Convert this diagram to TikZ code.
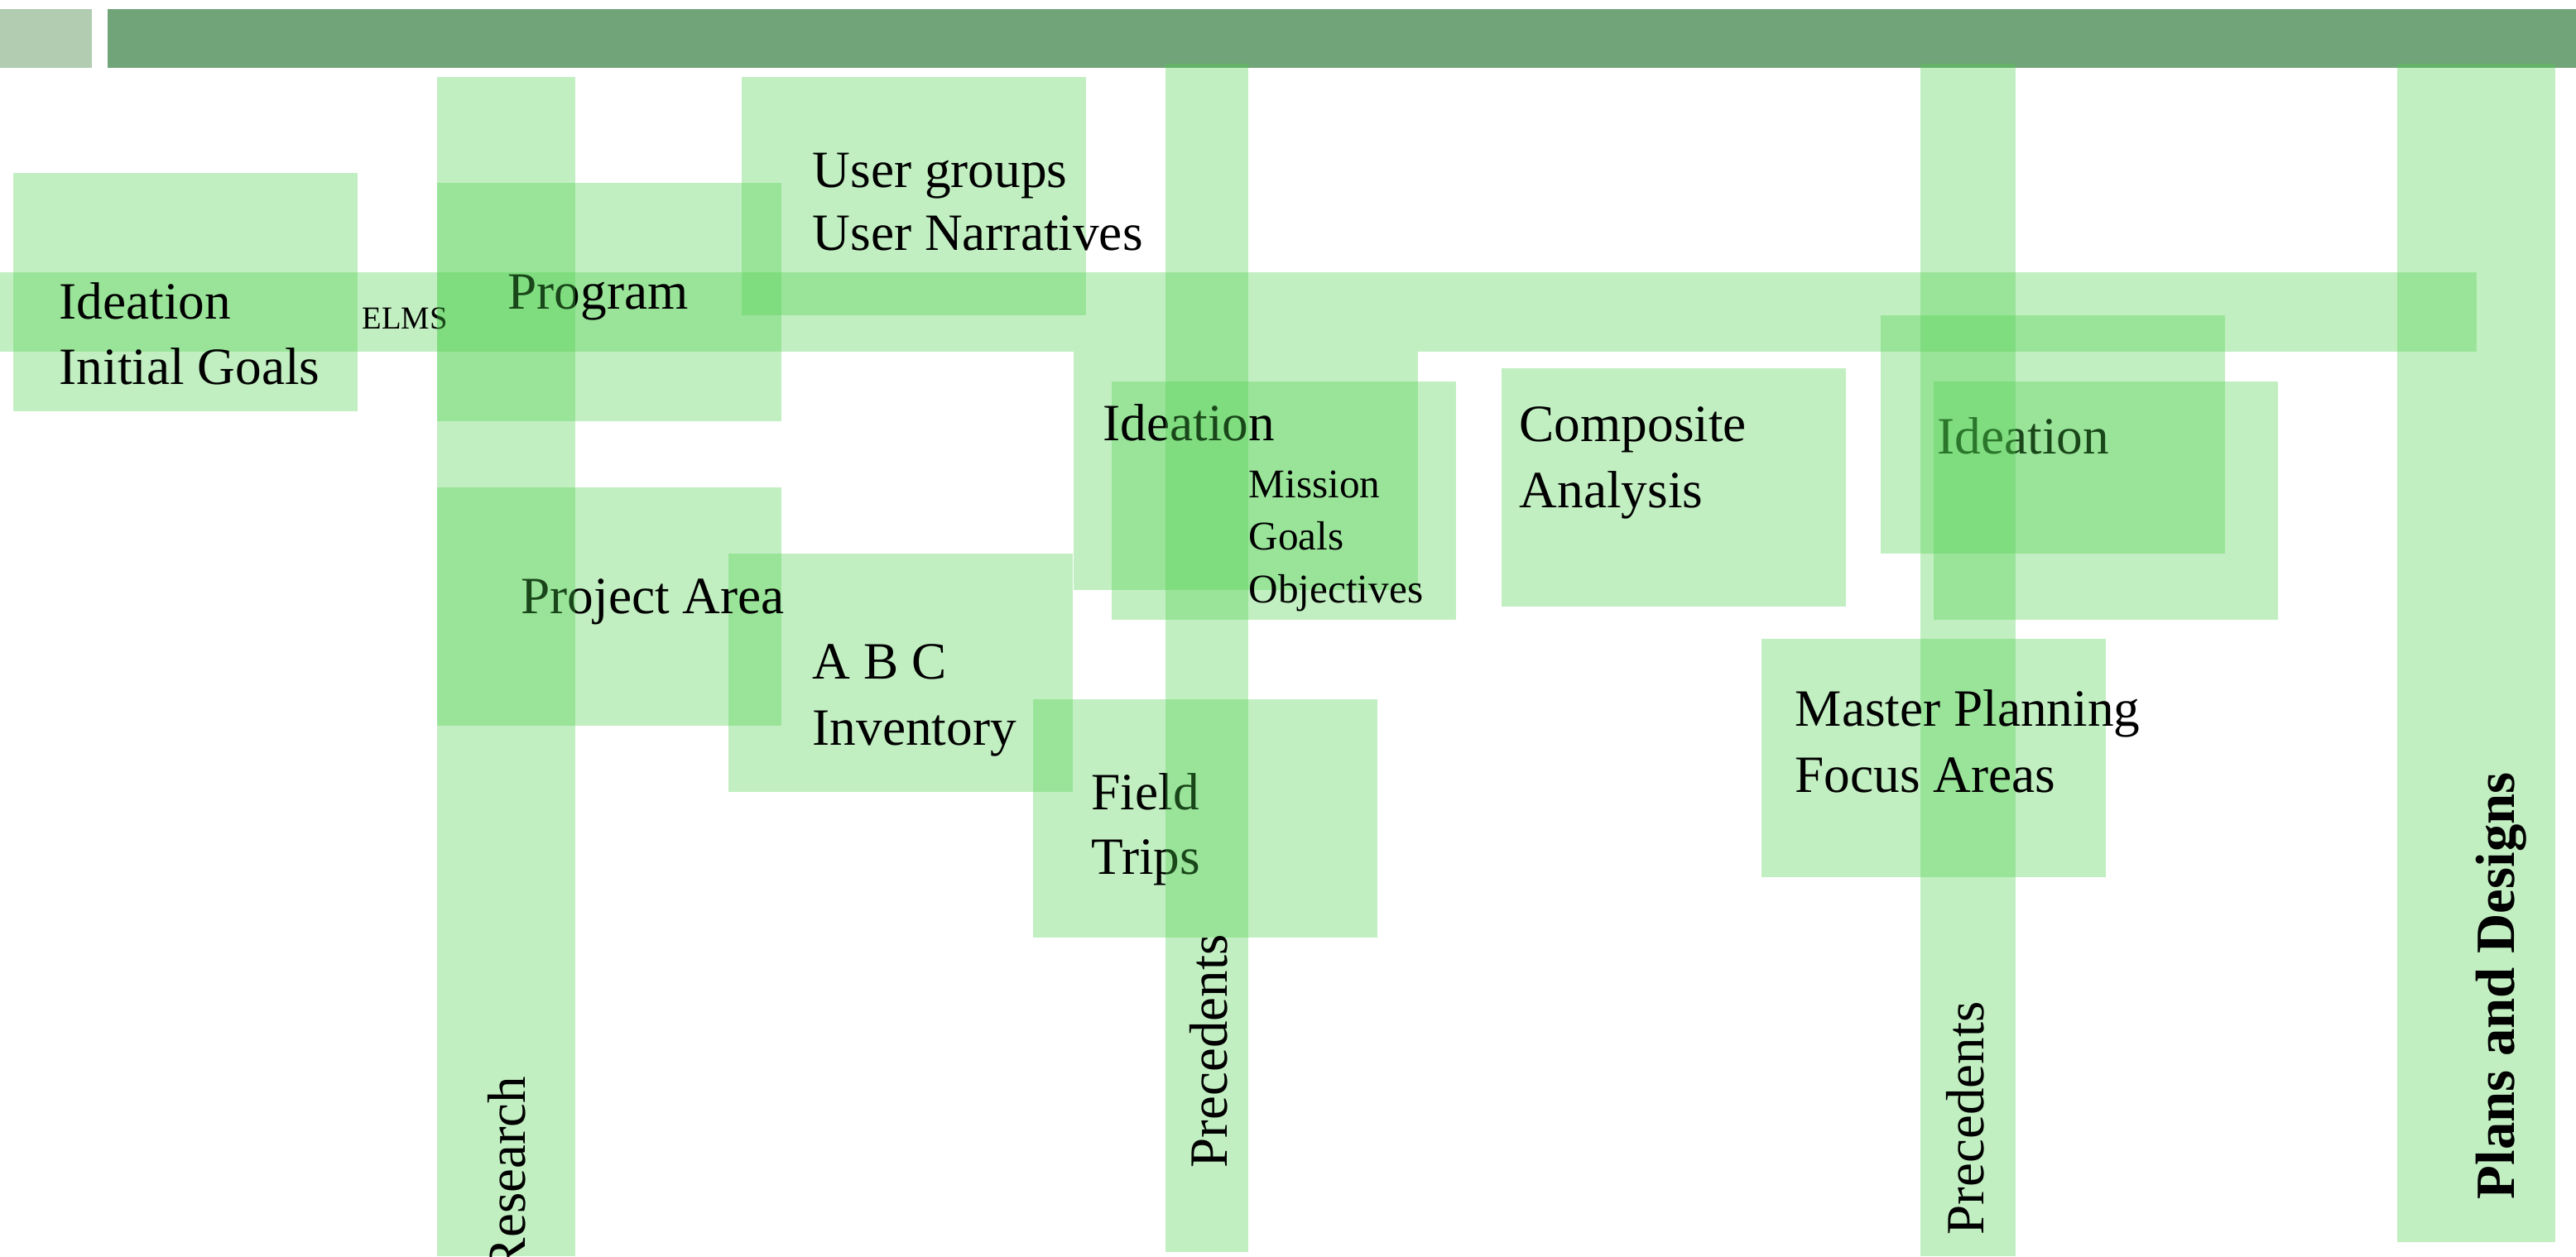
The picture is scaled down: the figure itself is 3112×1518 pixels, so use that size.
\documentclass[tikz,border=0pt]{standalone}
\usepackage{fontspec}
\setmainfont{Liberation Serif}
\definecolor{boxgreen}{RGB}{78,208,78}
\definecolor{barlight}{RGB}{178,204,178}
\definecolor{bardark}{RGB}{114,164,122}
\begin{document}
\begin{tikzpicture}[x=0.01cm,y=-0.01cm,
  box/.style={fill=boxgreen,fill opacity=0.344},
  lbl/.style={anchor=base west,inner sep=0pt,text=black,font=\fontsize{18}{22}\selectfont},
  small/.style={anchor=base west,inner sep=0pt,text=black,font=\fontsize{14}{17}\selectfont},
  tiny/.style={anchor=base west,inner sep=0pt,text=black,font=\fontsize{11}{13}\selectfont},
  vlbl/.style={anchor=base west,inner sep=0pt,rotate=90,text=black,font=\fontsize{18.5}{22}\selectfont},
  vbold/.style={anchor=base west,inner sep=0pt,rotate=90,text=black,font=\fontsize{19}{23}\selectfont\bfseries}]
\useasboundingbox (0,0) rectangle (3112,1518);
% title bars
\fill[barlight] (0,11) rectangle (111,82);
\fill[bardark] (130,11) rectangle (3112,82);
% long band
\fill[box] (0,329) rectangle (2992,425);
% boxes
\fill[box] (16,209) rectangle (432,497);
\fill[box] (528,221) rectangle (944,509);
\fill[box] (896,93) rectangle (1312,381);
\fill[box] (528,589) rectangle (944,877);
\fill[box] (880,669) rectangle (1296,957);
\fill[box] (1248,845) rectangle (1664,1133);
\fill[box] (1297,425) rectangle (1713,713);
\fill[box] (1343,461) rectangle (1759,749);
\fill[box] (1814,445) rectangle (2230,733);
\fill[box] (2272,381) rectangle (2688,669);
% texts below later layers
\node[lbl] (ideaA) at (71,385) {Ideation};
\node[lbl] (goalsA) at (71,464) {Initial Goals};
\node[tiny] (elms) at (437,397) {ELMS};
\node[lbl] (prog) at (613,373) {Program};
\node[lbl] (ug) at (981,226) {User groups};
\node[lbl] (un) at (981,302) {User Narratives};
\node[lbl] (pa) at (629,741) {Project Area};
\node[lbl] (abc) at (981,820) {A B C};
\node[lbl] (inv) at (981,900) {Inventory};
\node[lbl] (field) at (1318,978) {Field};
\node[lbl] (trips) at (1318,1056) {Trips};
\node[lbl] (ideaB) at (1332,532) {Ideation};
\node[small] (mis) at (1508,601) {Mission};
\node[small] (gls) at (1508,664) {Goals};
\node[small] (obj) at (1508,728) {Objectives};
\node[lbl] (comp) at (1835,533) {Composite};
\node[lbl] (anal) at (1835,613) {Analysis};
\node[lbl] (ideaC) at (2340,548) {Ideation};
% upper layers
\fill[box] (2336,461) rectangle (2752,749);
\fill[box] (2128,772) rectangle (2544,1060);
\fill[box] (2320,77) rectangle (2435,1518);
\fill[box] (2896,77) rectangle (3087,1501);
\fill[box] (528,93) rectangle (695,1518);
\fill[box] (1408,77) rectangle (1508,1513);
% top texts
\node[lbl] (mp) at (2168,877) {Master Planning};
\node[lbl] (fa) at (2168,957) {Focus Areas};
\node[vlbl,anchor=base east] (res) at (634,1300) {Research};
\node[vlbl] (precA) at (1482,1412) {Precedents};
\node[vlbl] (precB) at (2396,1493) {Precedents};
\node[vbold] (plans) at (3037,1450) {Plans and Designs};
\end{tikzpicture}
\end{document}
